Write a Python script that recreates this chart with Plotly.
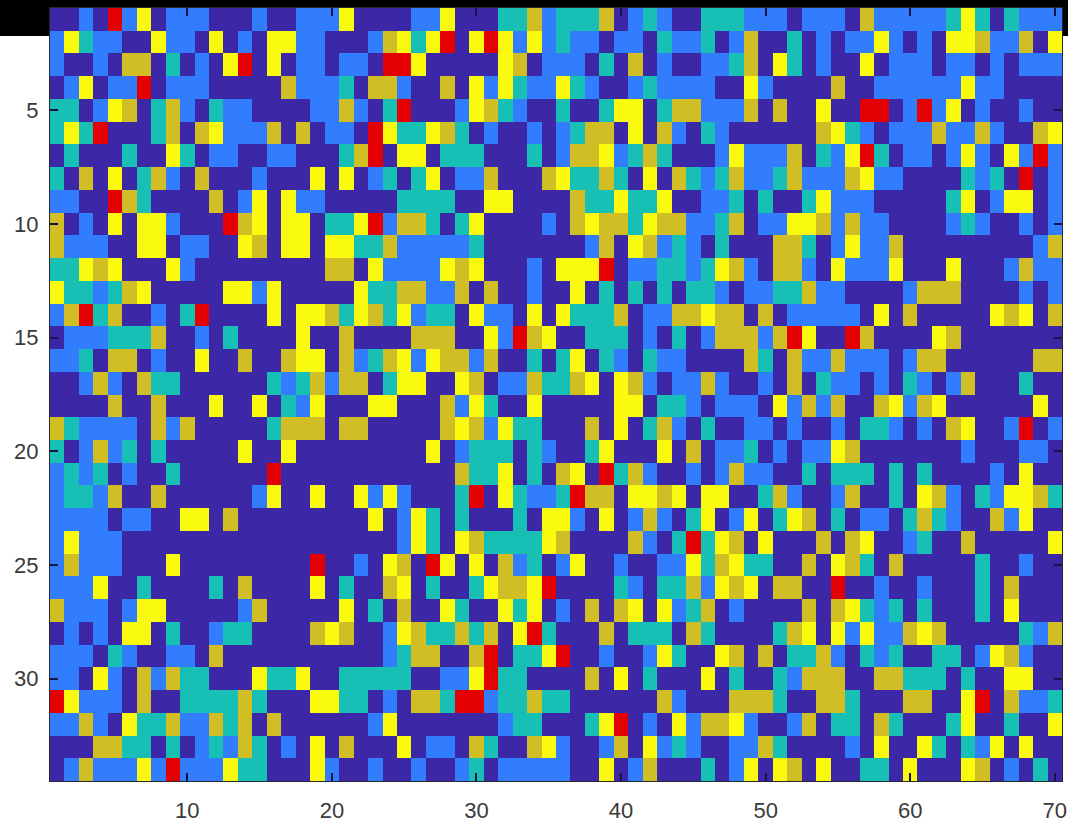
import plotly.graph_objects as go

# D dark, B blue, T teal, G gold, Y yellow, R red
level_names = ["D", "B", "T", "G", "Y", "R"]
level_colors = ["#3C27A6", "#327DFE", "#17BFB4", "#D1BD24", "#FAFA0F", "#E40000"]
x_ticks = [10, 20, 30, 40, 50, 60, 70]
y_ticks = [5, 10, 15, 20, 25, 30]

rows_left = [
    "DDBDRBYDBBBDDDBDDBBBYDDDDBBYDDDTTG",
    "BYTBBDDYBBDYDBDYYBBDDDBGYTYRDYRYBY",
    "BDDBDGGDTDBDYRDYDBBDBBDRRYDDDDDYGD",
    "DBYDBBRDBBBDDDDDGBBBTDGGBDDGDYBYTB",
    "TTDBYGDTGBDTBBDDDDBBGBDTRDDDBYGTBD",
    "TYTRDDDTGDGYBBBGDGDBBDRYTTYGTDBDDB",
    "DTDDDTDDYTDBBDDBBDDDTGRDYYDTTTDDDT",
    "TDGDYDTGBDGDDDBDDDYDYDBTDTYDBBGDDD",
    "BBDDRGTDDDDGDBYDYBBDDDDDTTTTDDYYDD",
    "GDBDYDYYBDDDRGYDYYDTTYRBGGTDTYDDDD",
    "GBBBDDYYDBBDDYGDYYDYYTTGBBBBBTDDDD",
    "TTYGYDDDYBDDDDDDDDDGGDYBBBBYGYDDDB",
    "YTTBTGYDDDDDYYBYDDDDDYTTGGBBGDGDDB",
    "BGRTGDDBDTRDDDDYDYYGTYGTYBTTDYBBDY",
    "DBBBTTTGDDBDTDDDDYDDGDDDDGGGDDYBRG",
    "BBTDGGDBDDYDDGDDGYYDGBTGYBYGGBGDDT",
    "DDBGBDGTTDDDDDDTBTGBGGDTYYDDYGDBBG",
    "DDDDGDDGDDDYDDYDTBYDDDYYDDDGBYTDDY",
    "GTBBBBDGBGDDDDDTGGGDGGDDDDDGYGBYTT",
    "TDBGBTDTDDDDDYDDYDDDDDDDDDYDBTTTDT",
    "BTBTDBDDTDDDDDDRDDDDDDDDDDDDGTTYDT",
    "BTTBGDDGDDDDDDBYDDYDDYBYBDDDTRDYTB",
    "BBBBDBBDDYYDGDDDDDDDDDYDBYTDTDDDTD",
    "BYBBBDDDDDDDDDDDDDDDDDDDBYTDYGTTTT",
    "BGBBBDDDYDDDDDDDDDRDDBDYGDRYDYDGBT",
    "BBBYDDTDDDDTDGDDDDYDTDDGYDTDDTYGGY",
    "GBBBDBYYDDDDDBGDDDDDYDTDGDDYTDDYTY",
    "DBDBDYYDTDDBTTDDDDGYGDDBYGTTGTGDYR",
    "BBBDTBDDBBDGDDDDDDDDDDDBTGGDDGRDTT",
    "BBDYBDGBGTTDDDYTTYDDTTTTTDDBBYRTTD",
    "RYBBBDGDDTTTTGTDDDYYTTDBDGGTRRBTTG",
    "BBGBDYTTGBBGTGDGDDDDDDBYDDDDDDDBTT",
    "DDDGGTTDTDBTBGTDBDYDGDDDYDBBDGTDDG",
    "DBGBBBYBRBBBYTTDDDYBDDBDDBDDBTDBBB",
]
rows_right = [
    "BTTTGDBTBDDTTTBBBDBBBDGBBBBBTYTDTBBB",
    "BTBBDBBDTBBTDBGDDTDBDBBYBDBDYYGBBGDY",
    "BBBDTDGDBDDBBTGDYTDBDDYDBBBDBBDBDBBB",
    "BYTBDDBTBBBBDDYBDDDDGDDBBBBBBYBBDDDD",
    "DTDDTYYDTGGBBBGDGDDYDDRRDBRBYDBDDBDD",
    "DBTGGDYDGBDTBDDDDDDGYTBDBBBGBBGBDDGY",
    "DBGGYBTGTDDDBYBBBGDTBYRTDBBDBYBDYBRB",
    "GYTTGTDYDGTBTGBBTGBBBGYBBDDDDTBTDRDB",
    "DDGTTYTTYDDBBTDTDDTYBBBDDDDDTYDBYYDB",
    "BDGYGGTYGGBBTGDBBYYGBGBBDDDDBTBDDBDB",
    "DDDBGDYGBTBDTDDDGGTDBYBBGDDDDDDDDDBG",
    "DYYYRDBBTTBTYGBDGGBDYBBBYDDDYDDDBGBB",
    "DDYDTDTDTDTTBDBBTTGBBDDDDBGGGDDDDBDB",
    "DYTTTGDBBGGYGGDGDBBBBBDYDGDDDDDYGYDG",
    "YDDTTTDBDTDBGGGBGRYDDRGDDDDYGDDDDDDD",
    "DTYDTBDTBBDDDDGTDGBBGBBBDBGGDDDDDDGG",
    "TTGYDYGBDBBGBDDBDGDTBBDBDTBDBGDDDTDD",
    "DDDDDYYDTTBDBBBDYBGBGDDGYBGYDDDDDDYD",
    "DDDGDYDTGBDTDDBBDBDDBDTTBDBDGYDDBRDB",
    "BDDTYDDDYDGDBBTDBDBBYGDDDDDDDBDDDBBD",
    "DGYDRTGBDDBDBGBBDDTDTTTDTDTDDDDBDYDD",
    "BTRGGDYYGYDYYDDTGBDDBGDDTDYGBDTBYYGT",
    "YYBDYDBGBDTYDBYDTYGDTDBBDTGTBDDGBYDD",
    "YGDDDDGBDTRTYGDYDDDGDGYDDBTDDGDDDDDY",
    "DBYDDBDDBBYTGYTTDDGDYGTDGDDDDDTDDBDD",
    "RDDDDTBDTTGBYGYDGGDDRDDBDDBDDDTDGDDD",
    "DBDGDGYDYBTGDBDDDDGDGYTBTDTDDDTDYDDD",
    "TDDDGDTTTDGTDDDDTGYDYBYBBGYGDDDDDTBG",
    "YRDDBDDBYTDDYGDGDTTGBDTBTDDTTDBYGBDD",
    "DDDGDYDTDDDYDTDDTBGGGDDGGTTTDTDDYYDD",
    "TTDDDDDDGBDDDGGGTDDGGTDDDGGDDYRDGBBT",
    "DDDTYRDBDYBGGYBDDBGDTTDGTDDDTYDDTDDY",
    "YBDDBGDYBTBDDBBGTDDDDBDYDDYTDTBYDYDD",
    "BBDDYDBGDDDTDBYDYGDYDDTTDYDDDYGDBDTD",
]

assert all(len(r) == 34 for r in rows_left), [len(r) for r in rows_left]
assert all(len(r) == 36 for r in rows_right), [len(r) for r in rows_right]

z = [[level_names.index(c) for c in a + b] for a, b in zip(rows_left, rows_right)]
n = len(level_colors)
scale = []
for i, c in enumerate(level_colors):
    scale += [[i / n, c], [(i + 1) / n, c]]

W, H = 1068, 822
L, R, T, B = 50, 6, 8, 41
pw, ph = W - L - R, H - T - B

fig = go.Figure(go.Heatmap(
    z=z, x=list(range(1, 71)), y=list(range(1, 35)),
    colorscale=scale, zmin=-0.5, zmax=5.5, showscale=False, hoverongaps=False,
))

axis_style = dict(
    showgrid=False, zeroline=False, showline=True, linecolor="#26262e", linewidth=1,
    mirror="ticks", ticks="inside", ticklen=8, tickwidth=2, tickcolor="#14144a", automargin=False,
    tickfont=dict(family="Liberation Sans, Arial, sans-serif", size=22, color="#3a3a3a"),
)
fig.update_xaxes(range=[0.5, 70.5], tickmode="array", tickvals=x_ticks,
                 ticklabelstandoff=10, **axis_style)
fig.update_yaxes(range=[34.5, 0.5], tickmode="array", tickvals=y_ticks,
                 ticklabelstandoff=6, **axis_style)

shapes = [
    dict(x0=-L / pw, x1=1 + R / pw, y0=1, y1=1 + T / ph),
    dict(x0=-L / pw, x1=0, y0=1 - 28 / ph, y1=1 + T / ph),
    dict(x0=1, x1=1 + R / pw, y0=1 - 28 / ph, y1=1 + T / ph),
]
fig.update_layout(
    width=W, height=H, margin=dict(l=L, r=R, t=T, b=B, autoexpand=False), paper_bgcolor="white",
    plot_bgcolor="white", showlegend=False,
    shapes=[dict(type="rect", xref="paper", yref="paper", fillcolor="black",
                 line_width=0, layer="below", **s) for s in shapes],
)
fig.write_html("out.html", config={"displayModeBar": False},
               post_script="document.body.style.margin='0';document.body.style.overflow='hidden';")
